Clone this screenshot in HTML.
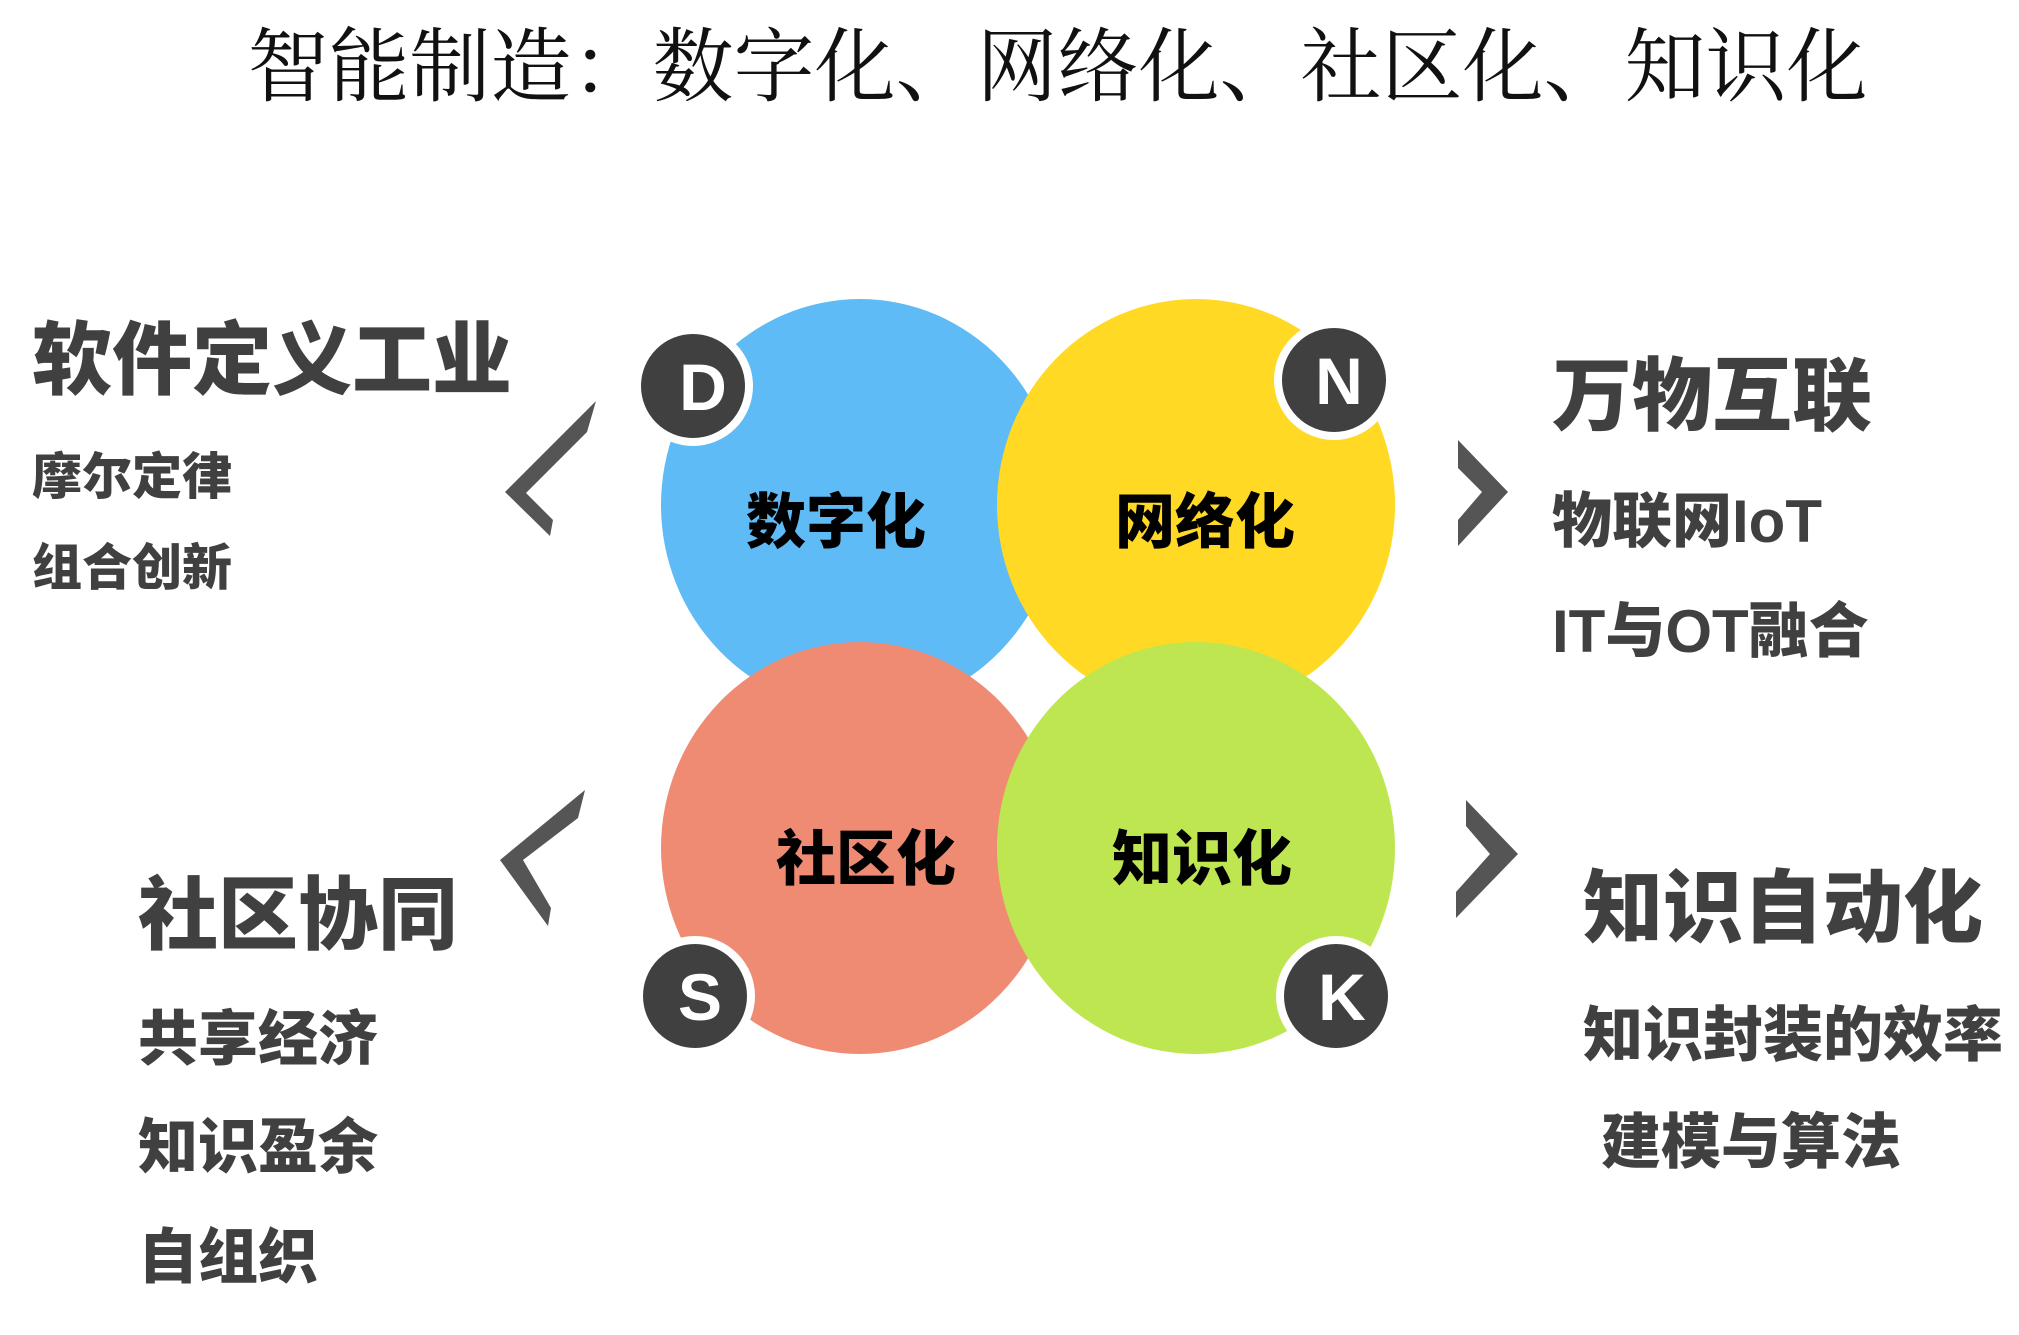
<!DOCTYPE html>
<html><head><meta charset="utf-8"><style>
html,body{margin:0;padding:0;background:#fff}
body{width:2019px;height:1335px;position:relative;overflow:hidden;font-family:"Liberation Sans","Noto Sans CJK SC",sans-serif}
.t{position:absolute;line-height:1;white-space:nowrap;color:#404040;font-weight:900;font-family:"Liberation Sans","Noto Sans CJK SC",sans-serif}
.c{position:absolute;line-height:1;white-space:nowrap;color:#000;font-weight:900;transform:translate(-50%,-50%)}
</style></head><body>
<div style="position:absolute;left:0;width:2019px;top:28px;text-align:center;font-family:'Liberation Serif','Noto Serif CJK SC',serif;font-size:81px;line-height:1;color:#111;padding-left:96px;box-sizing:border-box">智能制造：数字化、网络化、社区化、知识化</div>
<svg width="2019" height="1335" style="position:absolute;left:0;top:0">
<ellipse cx="860" cy="505" rx="199" ry="206" fill="#5FBBF5"/>
<ellipse cx="1196" cy="505" rx="199" ry="206" fill="#FFD924"/>
<ellipse cx="860" cy="848" rx="199" ry="206" fill="#F08B73"/>
<ellipse cx="1196" cy="848" rx="199" ry="206" fill="#BEE651"/>
<g fill="#404040" stroke="#fff" stroke-width="8">
<circle cx="693" cy="386" r="56"/>
<circle cx="1334" cy="380" r="56"/>
<circle cx="695" cy="996" r="56"/>
<circle cx="1336" cy="996" r="56"/>
</g>
<g fill="#fff" font-family="Liberation Sans, sans-serif" font-weight="bold" font-size="66" text-anchor="middle">
<text x="703" y="410">D</text>
<text x="1339" y="404">N</text>
<text x="700" y="1020">S</text>
<text x="1342" y="1020">K</text>
</g>
<g fill="#555">
<polygon points="596,401 505,492 550,536 553,520 526,493 587,432"/>
<polygon points="585,790 500,860 548,926 551,908 523,860 578,818"/>
<polygon points="1458,440 1508,492 1458,546 1458,520 1482,492 1458,468"/>
<polygon points="1466,800 1518,854 1456,918 1456,892 1490,854 1466,826"/>
</g>
</svg>
<div class="c" style="left:836px;top:523px;font-size:60px">数字化</div>
<div class="c" style="left:1205px;top:523px;font-size:60px">网络化</div>
<div class="c" style="left:866px;top:860px;font-size:60px">社区化</div>
<div class="c" style="left:1202px;top:860px;font-size:60px">知识化</div>

<div class="t" style="left:32px;top:321px;font-size:80px">软件定义工业</div>
<div class="t" style="left:32px;top:452px;font-size:50px">摩尔定律</div>
<div class="t" style="left:32px;top:543px;font-size:50px">组合创新</div>

<div class="t" style="left:1552px;top:357px;font-size:80px">万物互联</div>
<div class="t" style="left:1552px;top:492px;font-size:60px">物联网IoT</div>
<div class="t" style="left:1552px;top:602px;font-size:60px">IT与OT融合</div>

<div class="t" style="left:138px;top:876px;font-size:80px">社区协同</div>
<div class="t" style="left:138px;top:1010px;font-size:60px">共享经济</div>
<div class="t" style="left:138px;top:1118px;font-size:60px">知识盈余</div>
<div class="t" style="left:138px;top:1228px;font-size:60px">自组织</div>

<div class="t" style="left:1583px;top:869px;font-size:80px">知识自动化</div>
<div class="t" style="left:1583px;top:1006px;font-size:60px">知识封装的效率</div>
<div class="t" style="left:1601px;top:1113px;font-size:60px">建模与算法</div>
</body></html>
